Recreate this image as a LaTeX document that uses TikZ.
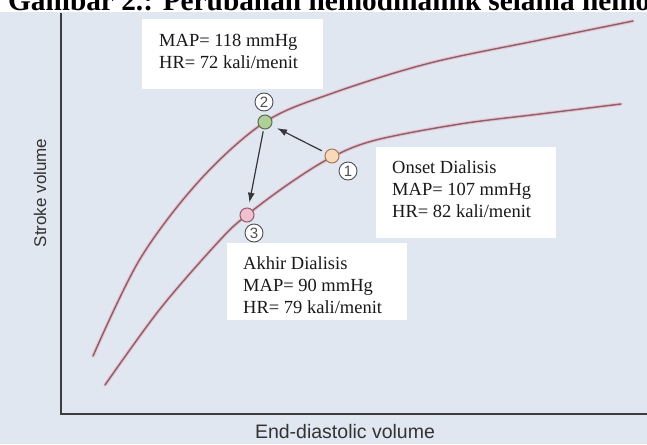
\documentclass[tikz,border=0pt]{standalone}
\usepackage{fontspec}
\setmainfont{Liberation Serif}
\setsansfont{Liberation Sans}
\usetikzlibrary{arrows.meta}
\definecolor{bgc}{RGB}{225,231,240}
\definecolor{curvec}{RGB}{140,95,110}
\definecolor{haloc}{RGB}{232,196,206}
\definecolor{axisc}{RGB}{60,60,66}
\definecolor{onec}{RGB}{248,218,186}
\definecolor{onedraw}{RGB}{170,120,90}
\definecolor{twoc}{RGB}{176,206,152}
\definecolor{twodraw}{RGB}{90,110,80}
\definecolor{threec}{RGB}{240,192,206}
\definecolor{threedraw}{RGB}{150,90,110}
\definecolor{labc}{RGB}{80,80,84}
\tikzset{
  infobox/.style={fill=white, draw=none, anchor=north west, inner sep=0pt},
  infotext/.style={anchor=base west, inner sep=0pt, font=\fontsize{18.5}{22}\selectfont, text=black!90},
  halo/.style={line width=3.6pt, haloc, line cap=round},
  core/.style={line width=1.4pt, curvec, line cap=round},
  dot/.style={circle, minimum size=14pt, inner sep=0pt, line width=1pt},
  numlab/.style={circle, minimum size=18pt, inner sep=0pt, fill=white, draw=labc, line width=0.9pt, font=\sffamily\fontsize{15}{15}\selectfont, text=labc},
  conn/.style={line width=1.2pt, axisc!90!black, -{Latex[length=10pt,width=7pt]}},
  axisline/.style={line width=1.8pt, axisc},
  axlabel/.style={font=\sffamily\fontsize{17}{17}\selectfont, text=black!80, inner sep=0pt}
}
\begin{document}
\begin{tikzpicture}[x=1pt,y=-1pt]
\useasboundingbox (0,0) rectangle (647,444);
\fill[white] (0,0) rectangle (647,444);
\fill[bgc] (0,12) rectangle (647,444);
% title (clipped by the picture's top edge, as in the reference)
\begin{scope}
\clip (0,0) rectangle (647,12);
\node[anchor=base west, inner sep=0pt, font=\bfseries\fontsize{29.3}{30}\selectfont] (title) at (8,11) {Gambar 2.: Perubahan hemodinamik selama hemodialisis};
\end{scope}
% axes
\coordinate (ytop) at (61,13);
\coordinate (origin) at (61,414);
\coordinate (xend) at (647,414);
\draw[axisline] (ytop) -- (origin) -- (xend);
\node[axlabel, rotate=90] (ylab) at (40,193) {Stroke volume};
\node[axlabel, font=\sffamily\fontsize{19.5}{20}\selectfont] (xlab) at (345,432) {End-diastolic volume};
% curves
\def\uppercurve{plot[smooth, tension=0.55] coordinates {(93,356) (140,259) (200,180) (265,122) (333,93) (430,63) (540,40) (633,21)}}
\def\lowercurve{plot[smooth, tension=0.55] coordinates {(105,385) (160,309) (220,240) (247,215) (290,183) (332,157) (376,140) (460,124) (540,114) (621,104)}}
\draw[halo] \uppercurve;
\draw[core] \uppercurve;
\draw[halo] \lowercurve;
\draw[core] \lowercurve;
% boxes
\node[infobox, minimum width=181pt, minimum height=70pt] (box2) at (142,19) {};
\node[infotext] (t2a) at (159,46) {MAP= 118 mmHg};
\node[infotext] (t2b) at (159,68) {HR= 72 kali/menit};
\node[infobox, minimum width=180pt, minimum height=91pt] (box1) at (376,147) {};
\node[infotext] (t1a) at (392,173) {Onset Dialisis};
\node[infotext] (t1b) at (392,195) {MAP= 107 mmHg};
\node[infotext] (t1c) at (392,217) {HR= 82 kali/menit};
\node[infobox, minimum width=180pt, minimum height=77pt] (box3) at (227,243) {};
\node[infotext] (t3a) at (243,269) {Akhir Dialisis};
\node[infotext] (t3b) at (243,291) {MAP= 90 mmHg};
\node[infotext] (t3c) at (243,313) {HR= 79 kali/menit};
% points
\node[dot, fill=onec, draw=onedraw] (p1) at (332,156) {};
\node[dot, fill=twoc, draw=twodraw] (p2) at (265,122) {};
\node[dot, fill=threec, draw=threedraw] (p3) at (247,215) {};
\node[numlab] (n1) at (348,171) {1};
\node[numlab] (n2) at (264,102) {2};
\node[numlab] (n3) at (254,233) {3};
% arrows
\draw[conn, shorten <=4pt, shorten >=6pt] (p1) -- (p2);
\draw[conn, shorten <=2pt, shorten >=5pt] (p2) -- (p3);
\end{tikzpicture}
\end{document}
